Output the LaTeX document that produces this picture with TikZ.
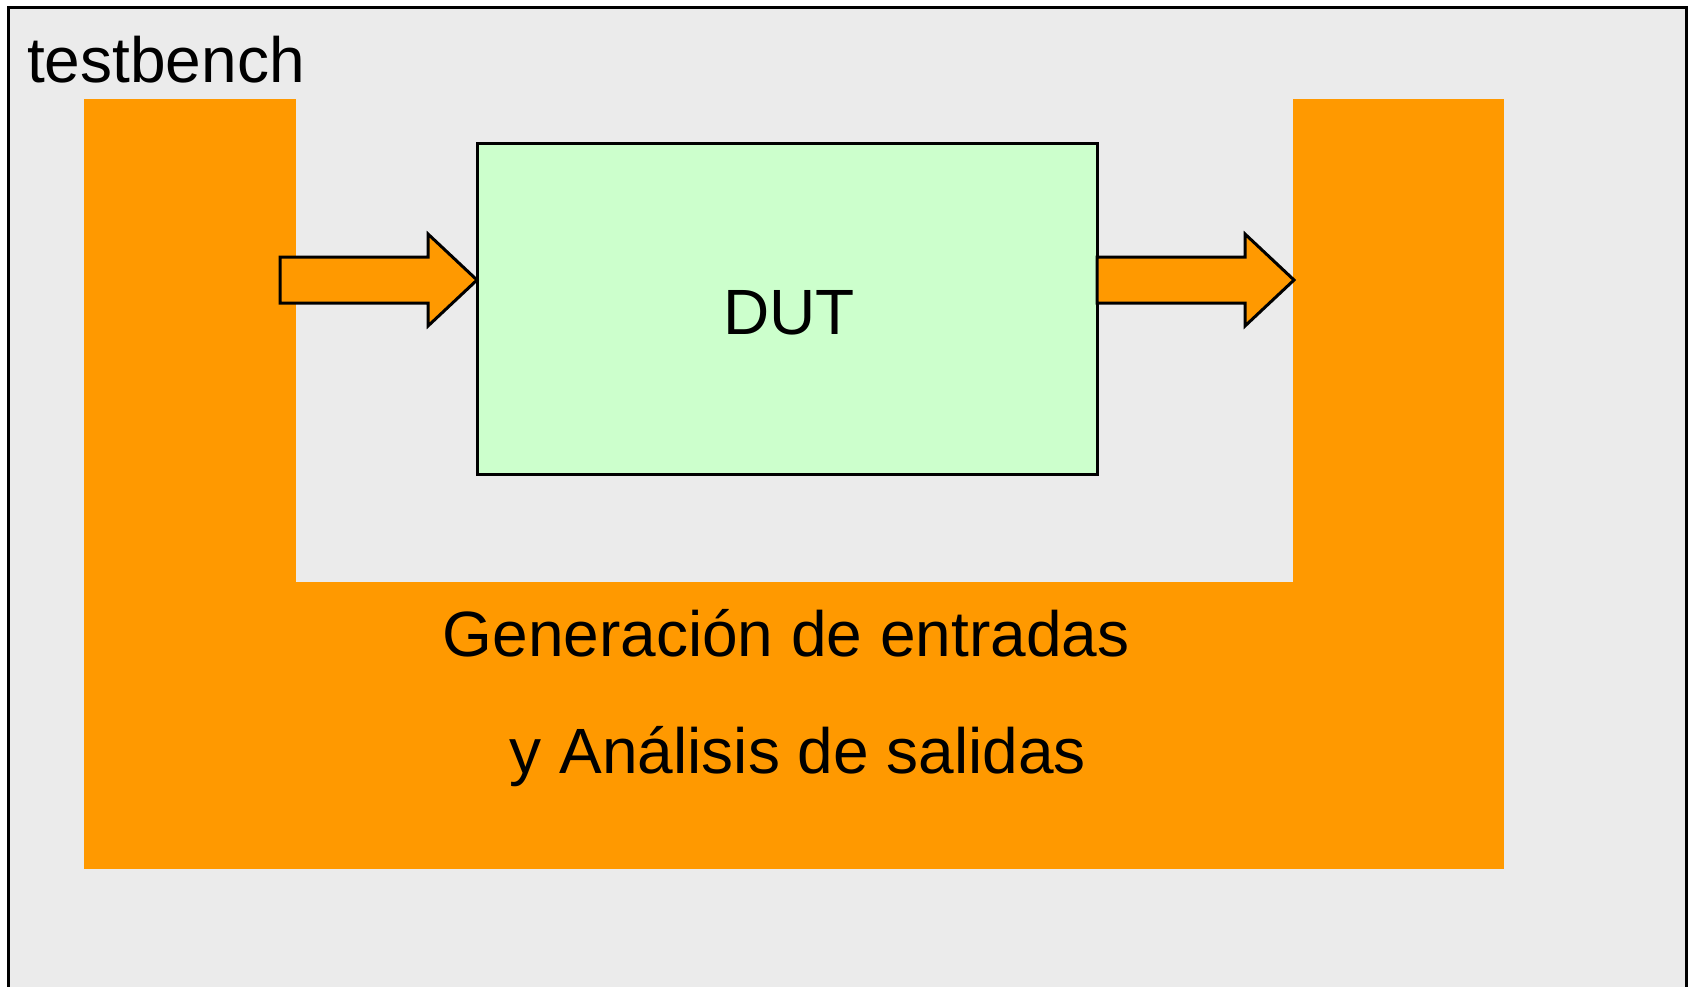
\documentclass[tikz,border=0pt]{standalone}
\usepackage{fontspec}
\setmainfont{Liberation Sans}
\usetikzlibrary{calc}
\definecolor{tbgray}{RGB}{235,235,235}
\definecolor{tborange}{RGB}{255,153,0}
\definecolor{tbgreen}{RGB}{204,255,204}
\tikzset{
  orangeblk/.style={fill=tborange, draw=none, inner sep=0pt, outer sep=0pt},
  dutbox/.style={draw=black, line width=3pt, fill=tbgreen, inner sep=0pt, outer sep=0pt},
  arrowbox/.style={draw=black, line width=3pt, fill=tborange, line join=miter},
  bigtext/.style={font=\fontsize{64}{77}\selectfont, text=black, inner sep=0pt},
}
\newcommand\tbblockarrow[2]{%
  \draw[arrowbox] let \p1=(#1), \p2=(#2) in
    (\x1,\y1+23pt) -- (\x2-49pt,\y1+23pt) -- (\x2-49pt,\y1+46pt) -- (\x2,\y2)
    -- (\x2-49pt,\y1-46pt) -- (\x2-49pt,\y1-23pt) -- (\x1,\y1-23pt) -- cycle;}
\begin{document}
\begin{tikzpicture}[x=1pt,y=-1pt]
  \useasboundingbox (0,0) rectangle (1688,986);
  \clip (0,0) rectangle (1688,986);
  % outer testbench frame
  \draw[line width=3pt, fill=tbgray] (8,7) rectangle (1686,1010);
  \node[bigtext, anchor=base west] (tb) at (27,82) {testbench};
  % orange U-shaped block
  \node[orangeblk, minimum width=212pt, minimum height=770pt, anchor=north west] (lblk) at (84,99) {};
  \node[orangeblk, minimum width=211pt, minimum height=770pt, anchor=north west] (rblk) at (1293,99) {};
  \node[orangeblk, minimum width=1420pt, minimum height=287pt, anchor=north west] (bbar) at (84,582) {};
  \node[bigtext, anchor=base] (gen1) at (786,656) {Generación de entradas};
  \node[bigtext, anchor=base] (gen2) at (798,773) {y Análisis de salidas};
  % DUT
  \node[dutbox, minimum width=620pt, minimum height=331pt, anchor=north west] (dut) at (477,143) {};
  \node[bigtext] (dutlbl) at (789,313) {DUT};
  % block arrows
  \coordinate (a1s) at (280,280);
  \coordinate (a2e) at (1294,280);
  \coordinate (a1e) at (dut.west |- a1s);
  \tbblockarrow{a1s}{a1e}
  \coordinate (a2s) at (dut.east |- a2e);
  \tbblockarrow{a2s}{a2e}
\end{tikzpicture}
\end{document}
